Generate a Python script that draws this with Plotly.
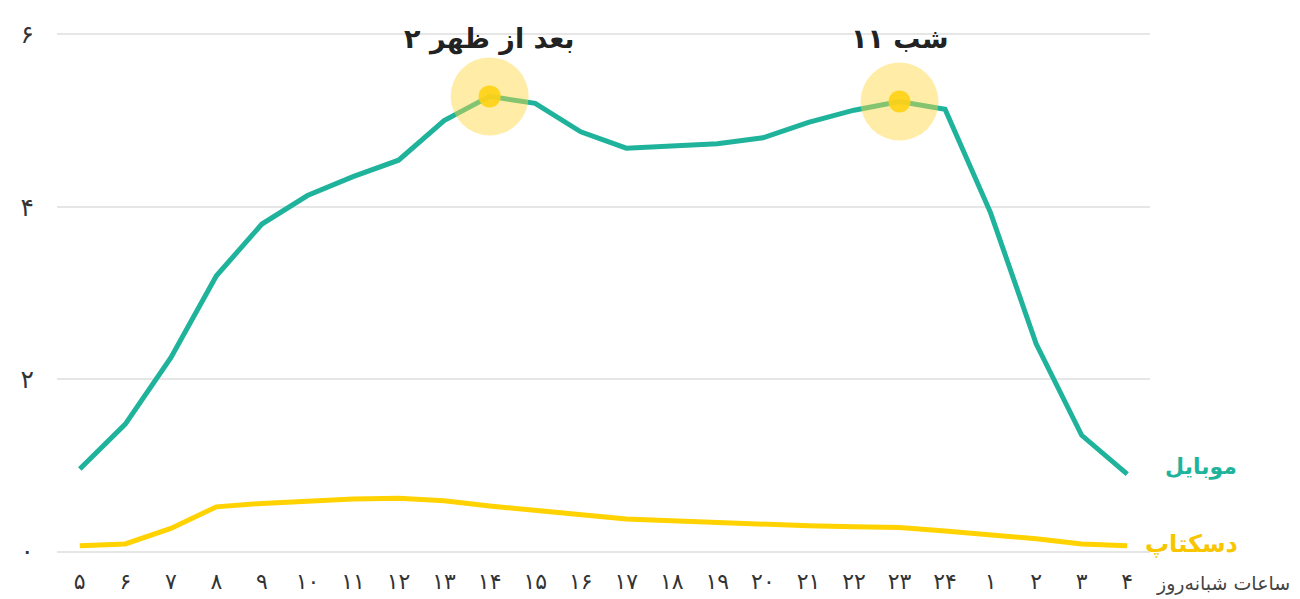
import plotly.graph_objects as go

hours = ["۵", "۶", "۷", "۸", "۹", "۱۰", "۱۱", "۱۲", "۱۳", "۱۴", "۱۵", "۱۶",
         "۱۷", "۱۸", "۱۹", "۲۰", "۲۱", "۲۲", "۲۳", "۲۴", "۱", "۲", "۳", "۴"]
mobile = [0.96, 1.48, 2.25, 3.20, 3.80, 4.13, 4.35, 4.54, 5.00, 5.28, 5.20, 4.87,
          4.68, 4.70, 4.73, 4.80, 4.98, 5.12, 5.22, 5.13, 3.93, 2.41, 1.35, 0.90]
desktop = [0.07, 0.09, 0.27, 0.52, 0.56, 0.59, 0.61, 0.62, 0.59, 0.53, 0.48, 0.43,
           0.38, 0.36, 0.34, 0.31, 0.30, 0.29, 0.28, 0.24, 0.20, 0.15, 0.09, 0.07]
y_ticks = [0, 2, 4, 6]
y_tick_text = ["۰", "۲", "۴", "۶"]
peak_hours = ["۱۴", "۲۳"]
peak_titles = ["بعد از ظهر ۲", "شب ۱۱"]
series_names = ["موبایل", "دسکتاپ"]
x_title = "ساعات شبانه‌روز"

TEAL = "#1fb39c"
YELLOW = "#ffd200"
FONT = "DejaVu Sans"

fig = go.Figure()
fig.add_trace(go.Scatter(x=hours, y=desktop, mode="lines",
                         line=dict(color=YELLOW, width=5), hoverinfo="skip"))
fig.add_trace(go.Scatter(x=hours, y=mobile, mode="lines",
                         line=dict(color=TEAL, width=5), hoverinfo="skip"))

peak_y = [mobile[hours.index(h)] for h in peak_hours]
fig.add_trace(go.Scatter(x=peak_hours, y=peak_y, mode="markers",
                         marker=dict(size=78, color="rgba(255,214,60,0.45)", line=dict(width=0)),
                         hoverinfo="skip"))
fig.add_trace(go.Scatter(x=peak_hours, y=peak_y, mode="markers",
                         marker=dict(size=22, color="rgba(255,210,20,0.9)", line=dict(width=0)),
                         hoverinfo="skip"))

for h, t in zip(peak_hours, peak_titles):
    fig.add_annotation(x=h, y=5.95, text="<b>" + t + "</b>", showarrow=False,
                       font=dict(family=FONT, size=27, color="#222222"),
                       xanchor="center", yanchor="middle")

fig.add_annotation(x=hours[-1], y=mobile[-1], text="<b>" + series_names[0] + "</b>",
                   showarrow=False, xanchor="left", yanchor="middle", xshift=36, yshift=7,
                   font=dict(family=FONT, size=22, color=TEAL))
fig.add_annotation(x=hours[-1], y=desktop[-1], text="<b>" + series_names[1] + "</b>",
                   showarrow=False, xanchor="left", yanchor="middle", xshift=16, yshift=2,
                   font=dict(family=FONT, size=24, color="#f7c600"))
fig.add_annotation(xref="paper", yref="paper", x=1, y=0, text=x_title, showarrow=False,
                   xanchor="left", yanchor="middle", xshift=4, yshift=-27,
                   font=dict(family=FONT, size=19, color="#444444"))

fig.update_layout(
    width=1300, height=599,
    margin=dict(l=49, r=158, t=22, b=51),
    paper_bgcolor="white", plot_bgcolor="white",
    showlegend=False,
    font=dict(family=FONT, color="#333333"),
    xaxis=dict(type="category", categoryorder="array", categoryarray=hours,
               range=[-0.5, 23.5], showgrid=False, zeroline=False, showline=False,
               ticks="", tickfont=dict(size=22, color="#333333"), ticklabelstandoff=10,
               automargin=False),
    yaxis=dict(range=[-0.05, 6.05], tickvals=y_ticks, ticktext=y_tick_text,
               showgrid=True, gridcolor="#e6e6e6", gridwidth=1.5,
               zeroline=False, showline=False, ticks="",
               tickfont=dict(size=25, color="#333333"), ticklabelstandoff=22,
               automargin=False),
)

fig.write_html("out.html")
